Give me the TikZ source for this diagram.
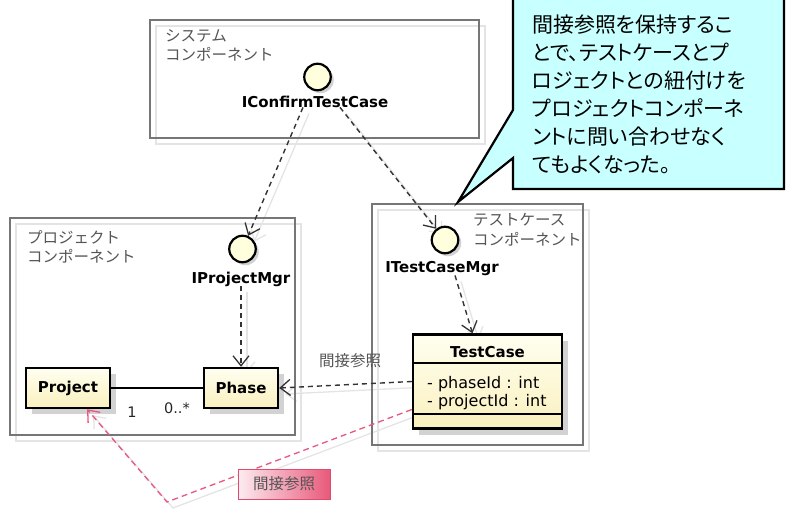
\documentclass[tikz,border=0pt]{standalone}
\usepackage{fontspec}
\setmainfont{DejaVu Sans}
\newfontfamily\jpfont{Noto Sans CJK JP}
\newfontfamily\jpfontp[RawFeature={+palt}]{Noto Sans CJK JP}
\usetikzlibrary{arrows.meta,shadows,backgrounds}
\definecolor{framec}{HTML}{767676}
\definecolor{ghostc}{HTML}{E4E4E4}
\definecolor{dashc}{HTML}{333333}
\definecolor{pinkc}{HTML}{E8577E}
\definecolor{pinkedge}{HTML}{E04A6C}
\definecolor{pinklight}{HTML}{FDECF1}
\definecolor{pinkdark}{HTML}{E8597B}
\definecolor{callfill}{HTML}{C8FFFF}
\definecolor{clsA}{HTML}{FFFFF0}
\definecolor{clsB}{HTML}{FAF0BE}
\definecolor{circfill}{HTML}{FFFFDD}
\definecolor{shadowc}{HTML}{D2D2D2}
\definecolor{labelc}{HTML}{555555}
\begin{document}
\begin{tikzpicture}[x=1pt,y=-1pt,
  compframe/.style={draw=framec,line width=1.4pt,inner sep=0pt},
  compghost/.style={draw=ghostc,line width=1.4pt,inner sep=0pt},
  comptext/.style={inner sep=0pt,anchor=west,align=left,text=labelc,font=\jpfont\fontsize{15.5}{19.5}\selectfont},
  iface/.style={circle,draw=black,line width=2.2pt,fill=circfill,minimum size=26.5pt,inner sep=0pt,
     drop shadow={shadow xshift=3pt,shadow yshift=-3pt,fill=shadowc,opacity=1}},
  ifacelabel/.style={anchor=base,inner sep=0pt,font=\bfseries\fontsize{15}{17}\selectfont},
  clsbox/.style={draw=black,line width=2.4pt,top color=clsA,bottom color=clsB,inner sep=0pt,
     font=\bfseries\fontsize{15}{17}\selectfont,
     drop shadow={shadow xshift=6pt,shadow yshift=-6pt,fill=shadowc,opacity=1}},
  attr/.style={anchor=base west,inner sep=0pt,font=\fontsize{16}{18}\selectfont},
  mult/.style={inner sep=0pt,text=black!85,font=\fontsize{14.5}{16}\selectfont},
  dep/.style={draw=dashc,line width=1.4pt,dash pattern=on 5pt off 4pt,
     -{Straight Barb[length=10pt,width=16pt,line width=1.3pt]}},
  pinkdep/.style={draw=pinkc,line width=1.3pt,dash pattern=on 6pt off 4pt,
     -{Straight Barb[length=10pt,width=16pt,line width=1.3pt]}},
  ghostline/.style={draw=ghostc,line width=1.3pt,
     -{Straight Barb[length=10pt,width=16pt,line width=1.3pt]}},
  assoc/.style={draw=black,line width=1.4pt},
  reflabel/.style={inner sep=0pt,text=labelc,font=\jpfont\fontsize{15.5}{19}\selectfont},
  pinkbox/.style={draw=pinkedge,line width=1pt,left color=pinklight,right color=pinkdark,
     minimum width=92pt,minimum height=30pt,inner sep=0pt,text=labelc,
     font=\jpfont\fontsize{15.5}{19}\selectfont}
]
\useasboundingbox (0,0) rectangle (786,511);
\clip (0,0) rectangle (786,511);

% component frames
\node[compghost,minimum width=329pt,minimum height=118pt] (sysg) at (320.5,85) {};
\node[compframe,minimum width=329pt,minimum height=118pt] (sysf) at (314.5,79) {};
\node[compghost,minimum width=285pt,minimum height=217pt] (projg) at (158.5,332.5) {};
\node[compframe,minimum width=285pt,minimum height=217pt] (projf) at (152.5,326.5) {};
\node[compghost,minimum width=211pt,minimum height=241pt] (tcg) at (483.5,330.5) {};
\node[compframe,minimum width=211pt,minimum height=241pt] (tcf) at (477.5,324.5) {};

\node[comptext] (syst) at (165,45.5) {システム\\コンポーネント};
\node[comptext] (projt) at (27,247) {プロジェクト\\コンポーネント};
\node[comptext] (tct) at (473,229.5) {テストケース\\コンポーネント};

% interfaces
\node[iface] (icc) at (317.5,77) {};
\node[ifacelabel] (icl) at (315,107) {IConfirmTestCase};
\node[iface] (ipm) at (242.5,249) {};
\node[ifacelabel] (ipl) at (241,283) {IProjectMgr};
\node[iface] (itc) at (445,240) {};
\node[ifacelabel] (itl) at (442,272) {ITestCaseMgr};

% classes
\node[clsbox,minimum width=84pt,minimum height=40pt] (proj) at (68,388) {Project};
\node[clsbox,minimum width=74pt,minimum height=40pt] (phase) at (241,388) {Phase};
\node[clsbox,minimum width=149pt,minimum height=94pt] (tc) at (487.5,381.5) {};
\node[anchor=base,inner sep=0pt,font=\bfseries\fontsize{15}{17}\selectfont] (tctitle) at (487.5,357) {TestCase};
\draw[black,line width=1.2pt] (tc.west |- 0,363) -- (tc.east |- 0,363);
\draw[black,line width=1.2pt] (tc.west |- 0,414) -- (tc.east |- 0,414);
\node[attr] (attr1) at (427,388) {- phaseId : int};
\node[attr] (attr2) at (427,406) {- projectId : int};

% association
\draw[assoc] (proj.east) -- (phase.west);
\node[mult] (m1) at (132,412) {1};
\node[mult] (m2) at (177,408) {0..*};

% ghost lines
\begin{pgfonlayer}{background}
\begin{scope}[transform canvas={shift={(6pt,-6pt)}}]
\draw[ghostline] ([xshift=-12pt]icl.south) -- (ipm);
\draw[ghostline] ([xshift=25pt]icl.south) -- (itc);
\draw[ghostline] (ipl.south) -- (phase.north);
\draw[ghostline] ([xshift=13pt]itl.south) -- ([xshift=-15pt]tc.north);
\draw[ghostline] (tc.west) -- (phase.east);
\coordinate (gbend) at (167,502);
\draw[ghostline] ([yshift=-28pt]tc.west) -- (gbend) -- ([xshift=19pt]proj.south);
\end{scope}
\end{pgfonlayer}

% dependencies
\draw[dep] ([xshift=-12pt]icl.south) -- (ipm);
\draw[dep] ([xshift=25pt]icl.south) -- (itc);
\draw[dep] (ipl.south) -- (phase.north);
\draw[dep] ([xshift=13pt]itl.south) -- ([xshift=-15pt]tc.north);
\draw[dep] (tc.west) -- (phase.east);
\node[reflabel] (ref1) at (350,361) {間接参照};

\coordinate (bend) at (167,502);
\draw[pinkdep] ([yshift=-28pt]tc.west) -- (bend) -- ([xshift=19pt]proj.south);
\node[pinkbox] (ref2) at (284,484) {間接参照};

% callout
\fill[callfill] (513,-5) -- (513,110) -- (458,202) -- (513,158) -- (513,189) -- (784,189) -- (784,-5) -- cycle;
\draw[black,line width=2.2pt,line join=miter] (513,-5) -- (513,110) -- (458,202) -- (513,158) -- (513,189) -- (784,189) -- (784,-5);
\node[anchor=north west,align=left,inner sep=0pt,font=\jpfontp\fontsize{21}{28}\selectfont] (calltext) at (532,15)
 {間接参照を保持するこ\\とで、テストケースとプ\\ロジェクトとの紐付けを\\プロジェクトコンポーネ\\ントに問い合わせなく\\てもよくなった。};
\end{tikzpicture}
\end{document}
